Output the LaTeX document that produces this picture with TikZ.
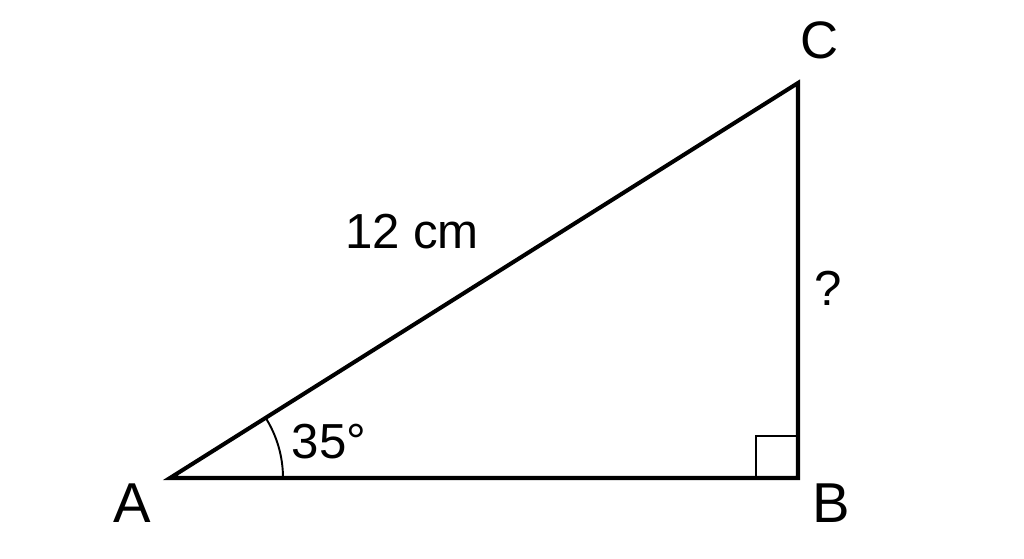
\documentclass[tikz,border=0pt]{standalone}
\usepackage{fontspec}
\setmainfont{Liberation Sans}
\usetikzlibrary{calc}

\begin{document}
\begin{tikzpicture}[line join=miter,
  lbl/.style={font=\fontsize{28}{32}\selectfont, inner sep=0pt}]

%Fix the size of the picture
	\useasboundingbox (0,0) rectangle (20.48,11.18);

%The corners of the triangle
	\coordinate (A) at (3.40,1.62);
	\coordinate (B) at (15.96,1.62);
	\coordinate (C) at (15.96,9.52);

%Draws the triangle
	\draw [line width=2.3pt] (A) -- (B) -- (C) -- cycle;

%Draws the right angle mark at B
	\draw [line width=1.3pt] ($(B)+(-0.84,0)$) -- ($(B)+(-0.84,0.84)$) -- ($(B)+(0,0.84)$);

%Draws the angle arc at A
	\draw [line width=1.1pt] ($(A)+(2.26,0)$) arc (0:32.2:2.26);

%The foreach command places the corner labels and their sizes
	\foreach \name/\x/\y/\size in {A/2.64/1.12/32,B/16.62/1.12/32,C/16.40/10.38/30}
		{
		\node [lbl,font=\fontsize{\size}{\size}\selectfont] (label\name) at (\x,\y) {\name};
		}

%Labels of the sides and the angle
	\node [lbl] (hyp) at (8.24,6.54) {12 cm};
	\node [lbl] (opp) at (16.56,5.42) {?};
	\node [lbl] (ang) at (6.58,2.34) {35°};

\end{tikzpicture}
\end{document}
